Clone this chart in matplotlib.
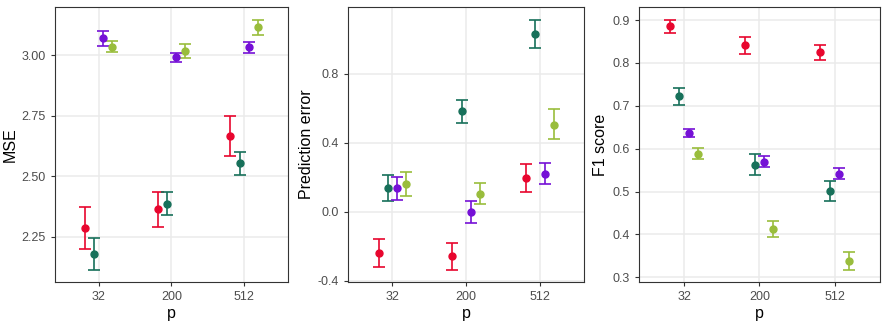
import numpy as np
import matplotlib.pyplot as plt

plt.rcParams['font.family'] = ['Liberation Sans', 'DejaVu Sans']
plt.rcParams['axes.unicode_minus'] = False

p_labels = ["32", "200", "512"]
colors = ["#E8062E", "#17705A", "#7510D6", "#99BD3C"]

# MSE: mean, lower, upper per series (rows) and p (cols)
mse_mean = [[2.286, 2.364, 2.666],
            [2.179, 2.387, 2.554],
            [3.071, 2.992, 3.032],
            [3.034, 3.016, 3.118]]
mse_lo = [[2.199, 2.288, 2.583],
          [2.114, 2.341, 2.507],
          [3.038, 2.972, 3.008],
          [3.014, 2.989, 3.084]]
mse_hi = [[2.372, 2.436, 2.749],
          [2.243, 2.436, 2.602],
          [3.100, 3.011, 3.055],
          [3.059, 3.047, 3.147]]

pe_mean = [[-0.239, -0.256, 0.195],
           [0.137, 0.584, 1.033],
           [0.137, 0.000, 0.221],
           [0.164, 0.106, 0.505]]
pe_lo = [[-0.322, -0.335, 0.112],
         [0.062, 0.516, 0.952],
         [0.069, -0.062, 0.160],
         [0.091, 0.046, 0.422]]
pe_hi = [[-0.160, -0.179, 0.279],
         [0.212, 0.651, 1.114],
         [0.202, 0.062, 0.283],
         [0.233, 0.166, 0.594]]

f1_mean = [[0.886, 0.841, 0.825],
           [0.723, 0.563, 0.502],
           [0.637, 0.570, 0.542],
           [0.588, 0.412, 0.338]]
f1_lo = [[0.871, 0.822, 0.807],
         [0.703, 0.539, 0.479],
         [0.628, 0.557, 0.529],
         [0.576, 0.394, 0.318]]
f1_hi = [[0.901, 0.860, 0.843],
         [0.741, 0.587, 0.524],
         [0.645, 0.583, 0.555],
         [0.601, 0.431, 0.358]]

panels = [
    ("MSE", mse_mean, mse_lo, mse_hi, [2.25, 2.50, 2.75, 3.00], "{:.2f}"),
    ("Prediction error", pe_mean, pe_lo, pe_hi, [-0.4, 0.0, 0.4, 0.8], "{:.1f}"),
    ("F1 score", f1_mean, f1_lo, f1_hi, [0.3, 0.4, 0.5, 0.6, 0.7, 0.8, 0.9], "{:.1f}"),
]
positions = [[0.062, 0.132, 0.262, 0.846],
             [0.392, 0.132, 0.266, 0.846],
             [0.7196, 0.132, 0.271, 0.846]]

fig = plt.figure(figsize=(8.88, 3.25), dpi=100)
offsets = [-0.1875, -0.0625, 0.0625, 0.1875]
x = np.arange(len(p_labels))

for (label, mean, lo, hi, yt, fmt), pos in zip(panels, positions):
    ax = fig.add_axes(pos)
    for i, c in enumerate(colors):
        m = np.array(mean[i])
        yerr = np.vstack([m - np.array(lo[i]), np.array(hi[i]) - m])
        ax.errorbar(x + offsets[i], m, yerr=yerr, fmt="o", color=c,
                    markersize=5, elinewidth=1.2, capsize=4, capthick=1.2, zorder=3)
    allv = np.concatenate([np.ravel(lo), np.ravel(hi)])
    rng = allv.max() - allv.min()
    ax.set_ylim(allv.min() - 0.05 * rng, allv.max() + 0.05 * rng)
    ax.set_xlim(-0.6, 2.6)
    ax.set_xticks(x)
    ax.set_xticklabels(p_labels)
    ax.set_yticks(yt)
    ax.set_yticklabels([fmt.format(v) for v in yt])
    ax.grid(True, color="#EBEBEB", linewidth=1.1, zorder=0)
    ax.set_axisbelow(True)
    for s in ax.spines.values():
        s.set_color("#333333")
        s.set_linewidth(0.8)
    ax.tick_params(colors="#333333", labelcolor="#4D4D4D", labelsize=9, length=3, width=0.8)
    ax.set_xlabel("p", fontsize=11.5, labelpad=2)
    ax.set_ylabel(label, fontsize=11.5, labelpad=3)

fig.savefig("out.png", dpi=100)
